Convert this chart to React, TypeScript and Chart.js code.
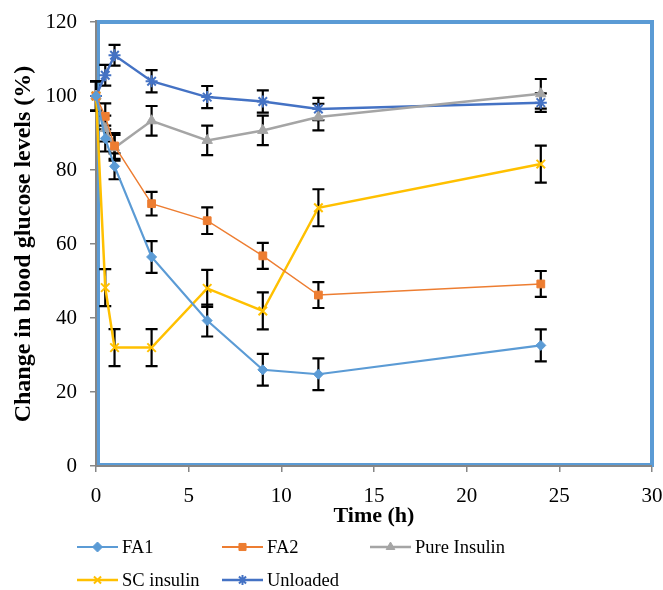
import React, { useEffect, useRef } from 'react';
import { Chart, registerables } from 'chart.js';
import { drawPoint } from 'chart.js/helpers';

Chart.register(...registerables);

const times = [0, 0.5, 1, 3, 6, 9, 12, 24];

const fa1 = [100, 88.5, 81, 56.5, 39.3, 26, 24.8, 32.6];
const fa1Err = [4, 3.5, 3.5, 4.3, 4.3, 4.3, 4.3, 4.3];

const fa2 = [100, 94.5, 86.5, 70.9, 66.3, 56.8, 46.2, 49.2];
const fa2Err = [4, 3.5, 3.5, 3.2, 3.6, 3.5, 3.5, 3.5];

const pure = [100, 91.2, 86, 93.3, 88, 90.7, 94.3, 100.6];
const pureErr = [4, 3.5, 3.5, 4, 4, 4, 3.6, 4];

const sc = [100, 48.2, 32, 32, 48, 41.9, 69.8, 81.6];
const scErr = [4, 5, 5, 5, 5, 5, 5, 5];

const unloaded = [100, 105.6, 111, 104, 99.7, 98.5, 96.5, 98.2];
const unloadedErr = [4, 2.8, 2.8, 3, 3, 3, 3, 2.5];

const seriesNames = ['FA1', 'FA2', 'Pure Insulin', 'SC insulin', 'Unloaded'];
const seriesColors = ['#5B9BD5', '#ED7D31', '#A5A5A5', '#FFC000', '#4472C4'];
const seriesMarkers = ['rectRot', 'rect', 'triangle', 'crossRot', 'star'];
const seriesLineWidths = [2.2, 1.4, 2.5, 2.5, 2.5];
const seriesRadius = [5, 5.5, 6, 6, 6];

const xTickMin = 0;
const xTickMax = 30;
const xTickStep = 5;
const yTickMin = 0;
const yTickMax = 120;
const yTickStep = 20;

const xTitle = 'Time (h)';
const yTitle = 'Change in blood glucose levels (%)';

const FONT = "'Liberation Serif', 'Times New Roman', serif";

const legendLayout = [
  { row: 0, x: 77 },
  { row: 0, x: 222 },
  { row: 0, x: 370 },
  { row: 1, x: 77 },
  { row: 1, x: 222 },
];
const legendRowsY = [547, 580];

export default function App() {
  const canvasRef = useRef<HTMLCanvasElement | null>(null);

  useEffect(() => {
    const canvas = canvasRef.current;
    if (!canvas) return;
    const values = [fa1, fa2, pure, sc, unloaded];
    const errors = [fa1Err, fa2Err, pureErr, scErr, unloadedErr];

    const datasets = values.map((vals, i) => ({
      label: seriesNames[i],
      data: times.map((t, j) => ({ x: t, y: vals[j] })),
      borderColor: seriesColors[i],
      backgroundColor: seriesColors[i],
      borderWidth: seriesLineWidths[i],
      pointStyle: seriesMarkers[i],
      pointRadius: seriesRadius[i],
      pointBorderWidth: i >= 3 ? 2 : 1,
      pointBorderColor: seriesColors[i],
      pointBackgroundColor: seriesColors[i],
      tension: 0,
      clip: false as any,
    }));

    const framePlugin = {
      id: 'frameAndErrors',
      beforeDatasetsDraw(chart: any) {
        const { ctx, chartArea } = chart;
        const { left, right, top, bottom } = chartArea;
        ctx.save();
        ctx.strokeStyle = '#5B9BD5';
        ctx.lineWidth = 4;
        ctx.strokeRect(left + 2, top, right - left - 2, bottom - top - 1);
        ctx.strokeStyle = '#868686';
        ctx.lineWidth = 2;
        ctx.beginPath();
        ctx.moveTo(left, top - 2);
        ctx.lineTo(left, bottom);
        ctx.moveTo(left, bottom);
        ctx.lineTo(right, bottom);
        ctx.stroke();
        const xs = chart.scales.x;
        const ys = chart.scales.y;
        ctx.strokeStyle = '#000';
        ctx.lineWidth = 2.2;
        values.forEach((vals, i) => {
          vals.forEach((v, j) => {
            const e = errors[i][j];
            const px = xs.getPixelForValue(times[j]);
            const y1 = ys.getPixelForValue(v + e);
            const y2 = ys.getPixelForValue(v - e);
            ctx.beginPath();
            ctx.moveTo(px, y1);
            ctx.lineTo(px, y2);
            ctx.moveTo(px - 6, y1);
            ctx.lineTo(px + 6, y1);
            ctx.moveTo(px - 6, y2);
            ctx.lineTo(px + 6, y2);
            ctx.stroke();
          });
        });
        ctx.restore();
      },
      afterDraw(chart: any) {
        const { ctx } = chart;
        ctx.save();
        ctx.font = `18.5px ${FONT}`;
        ctx.textBaseline = 'middle';
        ctx.textAlign = 'left';
        seriesNames.forEach((name, i) => {
          const pos = legendLayout[i];
          const y = legendRowsY[pos.row];
          const x0 = pos.x;
          const x1 = pos.x + 41;
          ctx.strokeStyle = seriesColors[i];
          ctx.lineWidth = Math.max(seriesLineWidths[i], 2);
          ctx.beginPath();
          ctx.moveTo(x0, y);
          ctx.lineTo(x1, y);
          ctx.stroke();
          ctx.fillStyle = seriesColors[i];
          ctx.lineWidth = i >= 3 ? 2 : 1;
          drawPoint(ctx, { pointStyle: seriesMarkers[i] as any, radius: 5, rotation: 0, borderWidth: i >= 3 ? 2 : 1 } as any, (x0 + x1) / 2, y);
          ctx.fillStyle = '#000';
          ctx.fillText(name, x1 + 4, y + 1);
        });
        ctx.restore();
      },
    };

    const chart = new Chart(canvas, {
      type: 'line',
      data: { datasets },
      options: {
        animation: false,
        responsive: false,
        maintainAspectRatio: false,
        layout: { padding: { top: 22, right: 11, bottom: 54, left: 0 } },
        plugins: {
          legend: { display: false },
          tooltip: { enabled: false },
        },
        scales: {
          x: {
            type: 'linear',
            min: xTickMin,
            max: xTickMax,
            ticks: { stepSize: xTickStep, color: '#000', padding: 12, font: { family: FONT, size: 21 } },
            grid: { display: true, drawOnChartArea: false, drawTicks: true, tickLength: 6, color: '#868686', lineWidth: 1.5 },
            border: { display: false },
            title: { display: true, text: xTitle, color: '#000', font: { family: FONT, size: 22, weight: 'bold' }, padding: { top: 0, bottom: 6 } },
            afterFit: (s: any) => { s.height = 70; s.paddingLeft = 0; s.paddingRight = 0; },
          },
          y: {
            type: 'linear',
            min: yTickMin,
            max: yTickMax,
            ticks: { stepSize: yTickStep, color: '#000', padding: 13, font: { family: FONT, size: 21 } },
            grid: { display: true, drawOnChartArea: false, drawTicks: true, tickLength: 6, color: '#868686', lineWidth: 1.5 },
            border: { display: false },
            title: { display: true, text: yTitle, color: '#000', font: { family: FONT, size: 24, weight: 'bold' }, padding: { top: 9, bottom: 0 } },
            afterFit: (s: any) => { s.width = 96; s.paddingTop = 0; s.paddingBottom = 0; },
          },
        },
      } as any,
      plugins: [framePlugin],
    });
    return () => chart.destroy();
  }, []);

  return (
    <div style={{ position: 'absolute', left: 0, top: 0, width: 663, height: 590, background: '#fff' }}>
      <canvas ref={canvasRef} width={663} height={590} style={{ display: 'block', width: 663, height: 590 }} />
    </div>
  );
}
